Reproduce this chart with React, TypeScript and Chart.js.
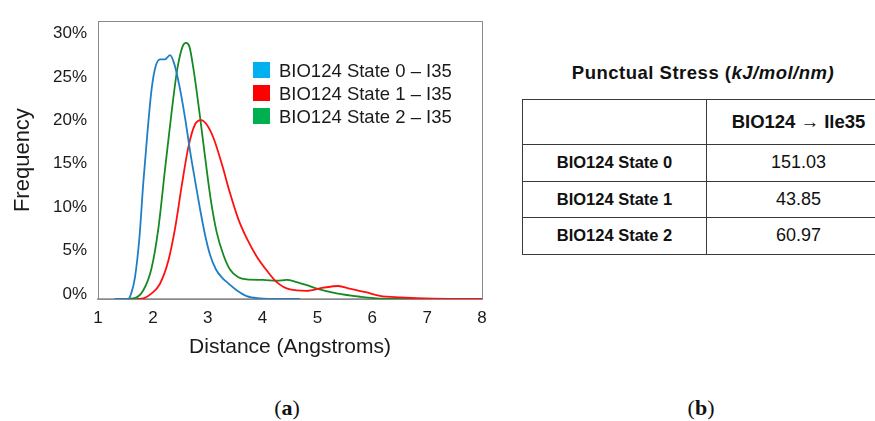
import React, { useEffect, useRef } from "react";
import { Chart, registerables } from "chart.js";

Chart.register(...registerables);

// ---- Data ----
const seriesNames = ["BIO124 State 0 – I35", "BIO124 State 1 – I35", "BIO124 State 2 – I35"];
const lineColors = ["#1f7fc6", "#ff1010", "#168a22"];
const legendColors = ["#00b0f0", "#ff0000", "#00b050"];

const state0Distance = [1.3, 1.553, 1.614, 1.674, 1.754, 1.826, 1.899, 1.978, 2.051, 2.13, 2.221, 2.312, 2.385, 2.482, 2.586, 2.677, 2.768, 2.859, 2.951, 3.042, 3.151, 3.255, 3.376, 3.528, 3.71, 3.953, 4.257, 4.68];
const state0Freq = [0, 0, 0.82, 2.5, 7.0, 13.4, 19.0, 24.2, 26.8, 27.6, 27.6, 28.1, 27.2, 24.6, 20.9, 17.1, 13.7, 10.4, 7.4, 5.1, 3.4, 2.5, 1.8, 1.0, 0.34, 0.08, 0, 0];

const state1Distance = [1.705, 1.826, 1.978, 2.13, 2.282, 2.404, 2.525, 2.647, 2.768, 2.878, 2.981, 3.102, 3.255, 3.406, 3.558, 3.71, 3.892, 4.075, 4.257, 4.5, 4.8, 5.11, 5.38, 5.59, 5.9, 6.14, 6.51, 7.11, 8.0];
const state1Freq = [0, 0.07, 0.64, 1.76, 4.4, 8.1, 13.0, 17.5, 20.1, 20.6, 20.1, 18.6, 15.6, 12.2, 9.2, 7.0, 4.9, 3.3, 1.95, 1.1, 0.94, 1.3, 1.5, 1.2, 0.75, 0.37, 0.19, 0.04, 0];

const state2Distance = [1.34, 1.644, 1.826, 1.978, 2.1, 2.221, 2.343, 2.446, 2.543, 2.604, 2.665, 2.75, 2.847, 2.951, 3.054, 3.163, 3.285, 3.406, 3.558, 3.71, 4.014, 4.257, 4.44, 4.622, 4.805, 4.99, 5.35, 5.78, 6.2, 7.0, 8.0];
const state2Freq = [0, 0.07, 1.0, 3.6, 8.1, 14.9, 21.6, 26.5, 29.1, 29.5, 29.1, 26.1, 21.6, 16.4, 11.5, 7.7, 5.1, 3.4, 2.5, 2.25, 2.2, 2.1, 2.2, 1.95, 1.6, 1.2, 0.64, 0.26, 0.04, 0, 0];

const tableTitleMain = "Punctual Stress (";
const tableTitleUnit = "kJ/mol/nm)";
const tableColumnHeader = "BIO124 → Ile35";
const tableRowLabels = ["BIO124 State 0", "BIO124 State 1", "BIO124 State 2"];
const tableValues = ["151.03", "43.85", "60.97"];

const FONT = "'Liberation Sans', Arial, sans-serif";

const boxPlugin = {
  id: "plotBox",
  beforeDatasetsDraw(chart: any) {
    const { ctx, chartArea } = chart;
    ctx.save();
    ctx.strokeStyle = "#8a8a8a";
    ctx.lineWidth = 1;
    ctx.strokeRect(
      Math.round(chartArea.left) + 0.5,
      Math.round(chartArea.top) + 0.5,
      Math.round(chartArea.right - chartArea.left),
      Math.round(chartArea.bottom - chartArea.top)
    );
    ctx.restore();
  },
};

function DensityChart() {
  const ref = useRef<HTMLCanvasElement | null>(null);
  useEffect(() => {
    if (!ref.current) return;
    const xs = [state0Distance, state1Distance, state2Distance];
    const ys = [state0Freq, state1Freq, state2Freq];
    const chart = new Chart(ref.current, {
      type: "line",
      data: {
        datasets: seriesNames.map((name, i) => ({
          label: name,
          data: xs[i].map((x, j) => ({ x, y: ys[i][j] })),
          borderColor: lineColors[i],
          backgroundColor: legendColors[i],
          borderWidth: 1.8,
          pointRadius: 0,
          cubicInterpolationMode: "monotone" as const,
          fill: false,
        })),
      },
      options: {
        responsive: false,
        animation: false,
        layout: { padding: { top: 14, right: 18, left: 0, bottom: 0 } },
        plugins: {
          legend: { display: false },
          tooltip: { enabled: false },
        },
        scales: {
          x: {
            type: "linear",
            min: 1,
            max: 8,
            grid: { display: false, drawTicks: false },
            border: { display: true, color: "#a8a8a8", width: 2 },
            ticks: {
              stepSize: 1,
              padding: 9,
              color: "#1a1a1a",
              font: { family: FONT, size: 17 },
            },
            title: {
              display: true,
              text: "Distance (Angstroms)",
              color: "#1a1a1a",
              font: { family: FONT, size: 21 },
              padding: { top: 0, bottom: 15 },
            },
            afterFit: (scale: any) => {
              scale.height = 76;
            },
          },
          y: {
            min: 0,
            max: 32,
            grid: { display: false, drawTicks: false },
            border: { display: true, color: "#8a8a8a", width: 1 },
            ticks: {
              stepSize: 5,
              includeBounds: false,
              padding: 11,
              labelOffset: -5,
              color: "#1a1a1a",
              font: { family: FONT, size: 17 },
              callback: (v: any) => v + "%",
            },
            title: {
              display: true,
              text: "Frequency",
              color: "#1a1a1a",
              font: { family: FONT, size: 22 },
              padding: { top: 10, bottom: 0 },
            },
            afterFit: (scale: any) => {
              scale.width = 98;
            },
          },
        },
      },
      plugins: [boxPlugin],
    });
    return () => chart.destroy();
  }, []);
  return <canvas ref={ref} width={500} height={375} style={{ position: "absolute", left: 0, top: 0 }} />;
}

export default function App() {
  const cellBorder = "1px solid #3a3a3a";
  return (
    <div
      style={{
        position: "fixed",
        left: 0,
        top: 0,
        width: 875,
        height: 421,
        overflow: "hidden",
        background: "#fff",
        fontFamily: FONT,
        color: "#111",
      }}
    >
      <DensityChart />
      {/* legend inside plot */}
      <div style={{ position: "absolute", left: 253, top: 58.5 }}>
        {seriesNames.map((name, i) => (
          <div key={name} style={{ display: "flex", alignItems: "center", height: 23 }}>
            <div style={{ width: 17, height: 16, background: legendColors[i], marginRight: 9 }} />
            <span style={{ fontSize: 18.5, lineHeight: "23px", color: "#1a1a1a", whiteSpace: "nowrap" }}>{name}</span>
          </div>
        ))}
      </div>
      {/* captions */}
      <div style={{ position: "absolute", left: 247, width: 80, top: 395, textAlign: "center", fontFamily: "'Liberation Serif', serif", fontSize: 22, lineHeight: "26px" }}>
        (<b>a</b>)
      </div>
      <div style={{ position: "absolute", left: 661, width: 80, top: 395, textAlign: "center", fontFamily: "'Liberation Serif', serif", fontSize: 22, lineHeight: "26px" }}>
        (<b>b</b>)
      </div>
      {/* table title */}
      <div style={{ position: "absolute", left: 503, width: 400, top: 61, textAlign: "center", fontWeight: "bold", fontSize: 18.5, lineHeight: "24px", letterSpacing: 0.5, whiteSpace: "nowrap" }}>
        {tableTitleMain}
        <i>{tableTitleUnit}</i>
      </div>
      {/* table */}
      <table
        style={{
          position: "absolute",
          left: 522,
          top: 99,
          borderCollapse: "collapse",
          tableLayout: "fixed",
          width: 368,
        }}
      >
        <colgroup>
          <col style={{ width: 184 }} />
          <col style={{ width: 184 }} />
        </colgroup>
        <tbody>
          <tr style={{ height: 45 }}>
            <td style={{ border: cellBorder, padding: 0 }} />
            <td style={{ border: cellBorder, padding: 0, textAlign: "center", fontWeight: "bold", fontSize: 18.5 }}>{tableColumnHeader}</td>
          </tr>
          {tableRowLabels.map((lab, i) => (
            <tr key={lab} style={{ height: 36.5 }}>
              <td style={{ border: cellBorder, padding: 0, textAlign: "center", fontWeight: "bold", fontSize: 16.5 }}>{lab}</td>
              <td style={{ border: cellBorder, padding: 0, textAlign: "center", fontSize: 18 }}>{tableValues[i]}</td>
            </tr>
          ))}
        </tbody>
      </table>
    </div>
  );
}
